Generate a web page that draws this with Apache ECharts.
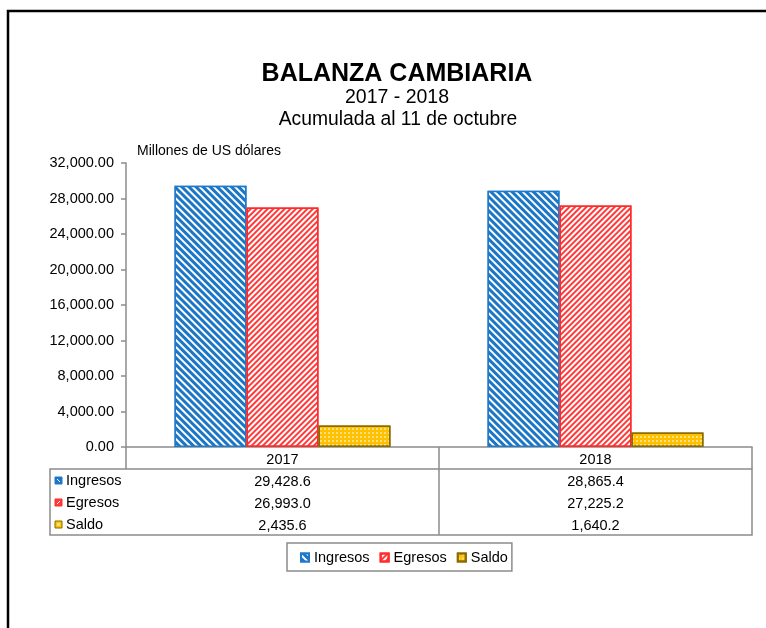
<!DOCTYPE html>
<html>
<head>
<meta charset="utf-8">
<title>Balanza cambiaria</title>
<script src="https://cdn.jsdelivr.net/npm/echarts@6/dist/echarts.min.js"></script>
<style>
  html, body { margin: 0; padding: 0; background: #fff; }
  #main { width: 766px; height: 628px; }
</style>
</head>
<body>
<div id="main"></div>
<script>
    // datos (millones de US dólares)
    var years = ['2017', '2018'];
    var seriesNames = ['Ingresos', 'Egresos', 'Saldo'];
    var ingresos = [29428.6, 28865.4];
    var egresos = [26993.0, 27225.2];
    var saldo = [2435.6, 1640.2];
    var yTicks = [0, 4000, 8000, 12000, 16000, 20000, 24000, 28000, 32000];

    var values = [ingresos, egresos, saldo];
    var font = 'Liberation Sans, Arial, sans-serif';
    var gridLine = '#8c8c8c';
    var fs = 14.5;

    function fmt(v, d) {
        return v.toLocaleString('en-US', {minimumFractionDigits: d, maximumFractionDigits: d});
    }

    // estilos de barra (tramas como en excel)
    var styles = [
        {
            color: '#1c76c6', borderColor: '#1f7ac9', borderWidth: 1.5,
            decal: {symbol: 'rect', color: '#ffffff', dashArrayX: [1, 0], dashArrayY: [2, 3], rotation: Math.PI / 4}
        },
        {
            color: '#ffffff', borderColor: '#ff2a2a', borderWidth: 1.5,
            decal: {symbol: 'rect', color: '#ff3a3a', dashArrayX: [1, 0], dashArrayY: [2, 2], rotation: -Math.PI / 4}
        },
        {
            color: '#ffc000', borderColor: '#8a6c00', borderWidth: 1.5,
            decal: {symbol: 'rect', color: 'rgba(255,255,255,0.85)', symbolSize: 0.8, dashArrayX: [2, 2], dashArrayY: [2, 2]}
        }
    ];
    var iconColors = [['#1c76c6', '#1f7ac9'], ['#ff3a3a', '#ff2a2a'], ['#ffc000', '#8a6c00']];

    var myChart = echarts.init(document.getElementById('main'));

    // filas de la tabla de datos: un eje x por serie, solo etiquetas
    var xAxes = [{
        type: 'category',
        data: years,
        axisLine: {lineStyle: {color: gridLine, width: 1.5}},
        axisTick: {show: true, length: 22, lineStyle: {color: gridLine, width: 1.5}},
        axisLabel: {color: '#000', fontSize: fs, fontFamily: font, margin: 5}
    }];
    values.forEach(function (arr, i) {
        xAxes.push({
            type: 'category',
            data: years,
            position: 'bottom',
            offset: 22 * (i + 1),
            axisLine: {show: false},
            axisTick: {show: false},
            axisLabel: {
                color: '#000', fontSize: fs, fontFamily: font, margin: 5,
                formatter: function (v, idx) { return fmt(arr[idx], 1); }
            }
        });
    });

    var graphics = [
        // marco
        {type: 'rect', shape: {x: 8, y: 11, width: 800, height: 700}, style: {fill: 'none', stroke: '#000', lineWidth: 2.5}, silent: true},
        {type: 'text', x: 397, y: 74, style: {text: 'BALANZA CAMBIARIA', fontSize: 25, fontWeight: 'bold', fontFamily: font, fill: '#000', align: 'center', verticalAlign: 'middle'}},
        {type: 'text', x: 397, y: 98, style: {text: '2017 - 2018', fontSize: 19.5, fontFamily: font, fill: '#000', align: 'center', verticalAlign: 'middle'}},
        {type: 'text', x: 398, y: 120, style: {text: 'Acumulada al 11 de octubre', fontSize: 19.3, fontFamily: font, fill: '#000', align: 'center', verticalAlign: 'middle'}},
        {type: 'text', x: 137, y: 151, style: {text: 'Millones de US dólares', fontSize: 14, fontFamily: font, fill: '#000', align: 'left', verticalAlign: 'middle'}},
        // tabla
        {type: 'rect', shape: {x: 50, y: 469, width: 702, height: 66}, style: {fill: 'none', stroke: gridLine, lineWidth: 1.5}, silent: true},
        {type: 'line', shape: {x1: 439, y1: 469, x2: 439, y2: 535}, style: {stroke: gridLine, lineWidth: 1.5}, silent: true}
    ];
    seriesNames.forEach(function (name, i) {
        var cy = 481 + 22 * i;
        graphics.push({type: 'rect', shape: {x: 55, y: cy - 4, width: 7, height: 7},
            style: {fill: iconColors[i][0], stroke: iconColors[i][1], lineWidth: 1}});
        if (i < 2) {
            graphics.push({type: 'line', shape: i === 0 ? {x1: 57, y1: cy - 2, x2: 60, y2: cy + 1} : {x1: 57, y1: cy + 1, x2: 60, y2: cy - 2},
                style: {stroke: '#fff', lineWidth: 1}});
        } else {
            graphics.push({type: 'rect', shape: {x: 57, y: cy - 2, width: 3, height: 3}, style: {fill: '#ffe27a'}});
        }
        graphics.push({type: 'text', x: 66, y: cy, style: {text: name, fontSize: fs, fontFamily: font, fill: '#000', verticalAlign: 'middle'}});
    });

    var option = {
        backgroundColor: '#ffffff',
        animation: false,
        legend: {
            data: seriesNames,
            left: 287,
            top: 543,
            padding: [7, 4, 6, 13],
            itemWidth: 8,
            itemHeight: 8,
            itemGap: 10,
            icon: 'rect',
            borderColor: gridLine,
            borderWidth: 1.5,
            textStyle: {color: '#000', fontSize: fs, fontFamily: font}
        },
        grid: {left: 126, right: 14, top: 163, bottom: 181},
        xAxis: xAxes,
        yAxis: {
            type: 'value',
            min: yTicks[0],
            max: yTicks[yTicks.length - 1],
            interval: yTicks[1] - yTicks[0],
            axisLine: {show: true, lineStyle: {color: gridLine, width: 1.5}},
            axisTick: {show: true, length: 5, lineStyle: {color: gridLine, width: 1.5}},
            splitLine: {show: false},
            axisLabel: {
                color: '#000', fontSize: fs, fontFamily: font, margin: 12,
                formatter: function (v) { return fmt(v, 2); }
            }
        },
        graphic: graphics,
        series: seriesNames.map(function (name, i) {
            return {
                name: name,
                type: 'bar',
                xAxisIndex: 0,
                data: values[i],
                barGap: 0,
                barCategoryGap: '31%',
                itemStyle: styles[i]
            };
        })
    };
    myChart.setOption(option);
</script>
</body>
</html>
